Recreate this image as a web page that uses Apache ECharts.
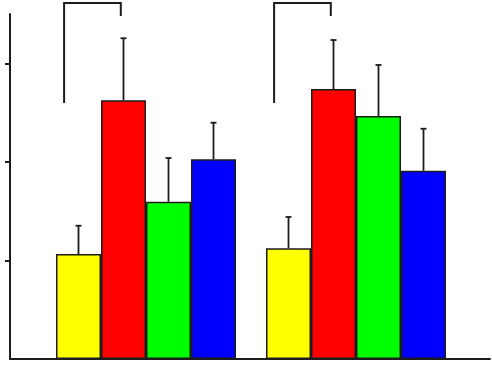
<!DOCTYPE html>
<html>
<head>
<meta charset="utf-8">
<script src="https://cdn.jsdelivr.net/npm/echarts@6/dist/echarts.min.js"></script>
<style>html,body{margin:0;padding:0;background:#fff}#c{width:492px;height:368px}</style>
</head>
<body>
<div id="c"></div>
<script>
var categories = ['Group 1', 'Group 2'];
var seriesNames = ['Yellow', 'Red', 'Green', 'Blue'];
var yellowValues = [1.065, 1.123];
var redValues = [2.625, 2.739];
var greenValues = [1.596, 2.465];
var blueValues = [2.026, 1.910];
var yellowUpper = [1.352, 1.441];
var redUpper = [3.254, 3.236];
var greenUpper = [2.039, 2.983];
var blueUpper = [2.397, 2.336];
// bracket: [category, left bottom, top, right bottom]
var bracketLeftBottom = [2.597, 2.597];
var bracketTop = [3.612, 3.612];
var bracketRightBottom = [3.480, 3.480];
var yTicks = [1, 2, 3];

var colors = ['#ffff00', '#ff0000', '#00ff00', '#0000ff'];
var values = [yellowValues, redValues, greenValues, blueValues];
var uppers = [yellowUpper, redUpper, greenUpper, blueUpper];
var BAR_W = 45;
var INK = '#1c1c1c';

var chart = echarts.init(document.getElementById('c'), null, {renderer: 'canvas'});

var series = [];
values.forEach(function (vals, i) {
  series.push({
    type: 'bar', name: seriesNames[i], xAxisIndex: 1, yAxisIndex: 1,
    data: vals, barWidth: BAR_W, barGap: '0%',
    itemStyle: {color: colors[i], borderColor: INK, borderWidth: 1.5},
    emphasis: {disabled: true}, silent: true, z: 2
  });
});
values.forEach(function (vals, i) {
  var data = vals.map(function (v, k) { return [k, v, uppers[i][k]]; });
  series.push({
    type: 'custom', xAxisIndex: 1, yAxisIndex: 1, silent: true, z: 3,
    data: data,
    renderItem: function (params, api) {
      var base = api.coord([api.value(0), api.value(1)]);
      var top = api.coord([api.value(0), api.value(2)]);
      var x = base[0] + (i - 1.5) * BAR_W;
      return {
        type: 'group',
        children: [
          {type: 'line', shape: {x1: x, y1: base[1], x2: x, y2: top[1]}, style: {stroke: INK, lineWidth: 1.8}},
          {type: 'line', shape: {x1: x - 3, y1: top[1], x2: x + 3, y2: top[1]}, style: {stroke: INK, lineWidth: 1.8}}
        ]
      };
    }
  });
});
series.push({
  type: 'custom', xAxisIndex: 1, yAxisIndex: 1, silent: true, z: 3, clip: false,
  data: categories.map(function (c, k) { return [k, bracketLeftBottom[k], bracketTop[k], bracketRightBottom[k]]; }),
  renderItem: function (params, api) {
    var c = api.coord([api.value(0), api.value(2)]);
    var band = api.size([1, 0])[0];
    var lb = api.coord([api.value(0), api.value(1)])[1];
    var rb = api.coord([api.value(0), api.value(3)])[1];
    var xl = c[0] - band * 0.39;
    var xr = c[0] - band * 0.12;
    return {
      type: 'polyline',
      shape: {points: [[xl, lb], [xl, c[1]], [xr, c[1]], [xr, rb]]},
      style: {stroke: INK, lineWidth: 2, fill: null}
    };
  }
});

chart.setOption({
  animation: false,
  backgroundColor: '#ffffff',
  grid: [
    {left: 10, right: 2, top: 14, bottom: 9},
    {left: 41, width: 420, top: 14, bottom: 9}
  ],
  xAxis: [
    {type: 'value', gridIndex: 0, min: 0, max: 1, axisLine: {show: true, onZero: false, lineStyle: {color: INK, width: 2}},
     axisTick: {show: false}, axisLabel: {show: false}, splitLine: {show: false}},
    {type: 'category', gridIndex: 1, data: categories, axisLine: {show: false}, axisTick: {show: false},
     axisLabel: {show: false}, splitLine: {show: false}}
  ],
  yAxis: [
    {type: 'value', gridIndex: 0, min: 0, max: 3.5, interval: 1,
     axisLine: {show: true, lineStyle: {color: INK, width: 2}},
     axisTick: {show: true, length: 5, customValues: yTicks, lineStyle: {color: INK, width: 2}},
     axisLabel: {show: false}, splitLine: {show: false}},
    {type: 'value', gridIndex: 1, min: 0, max: 3.5, show: false}
  ],
  series: series
});
</script>
</body>
</html>
